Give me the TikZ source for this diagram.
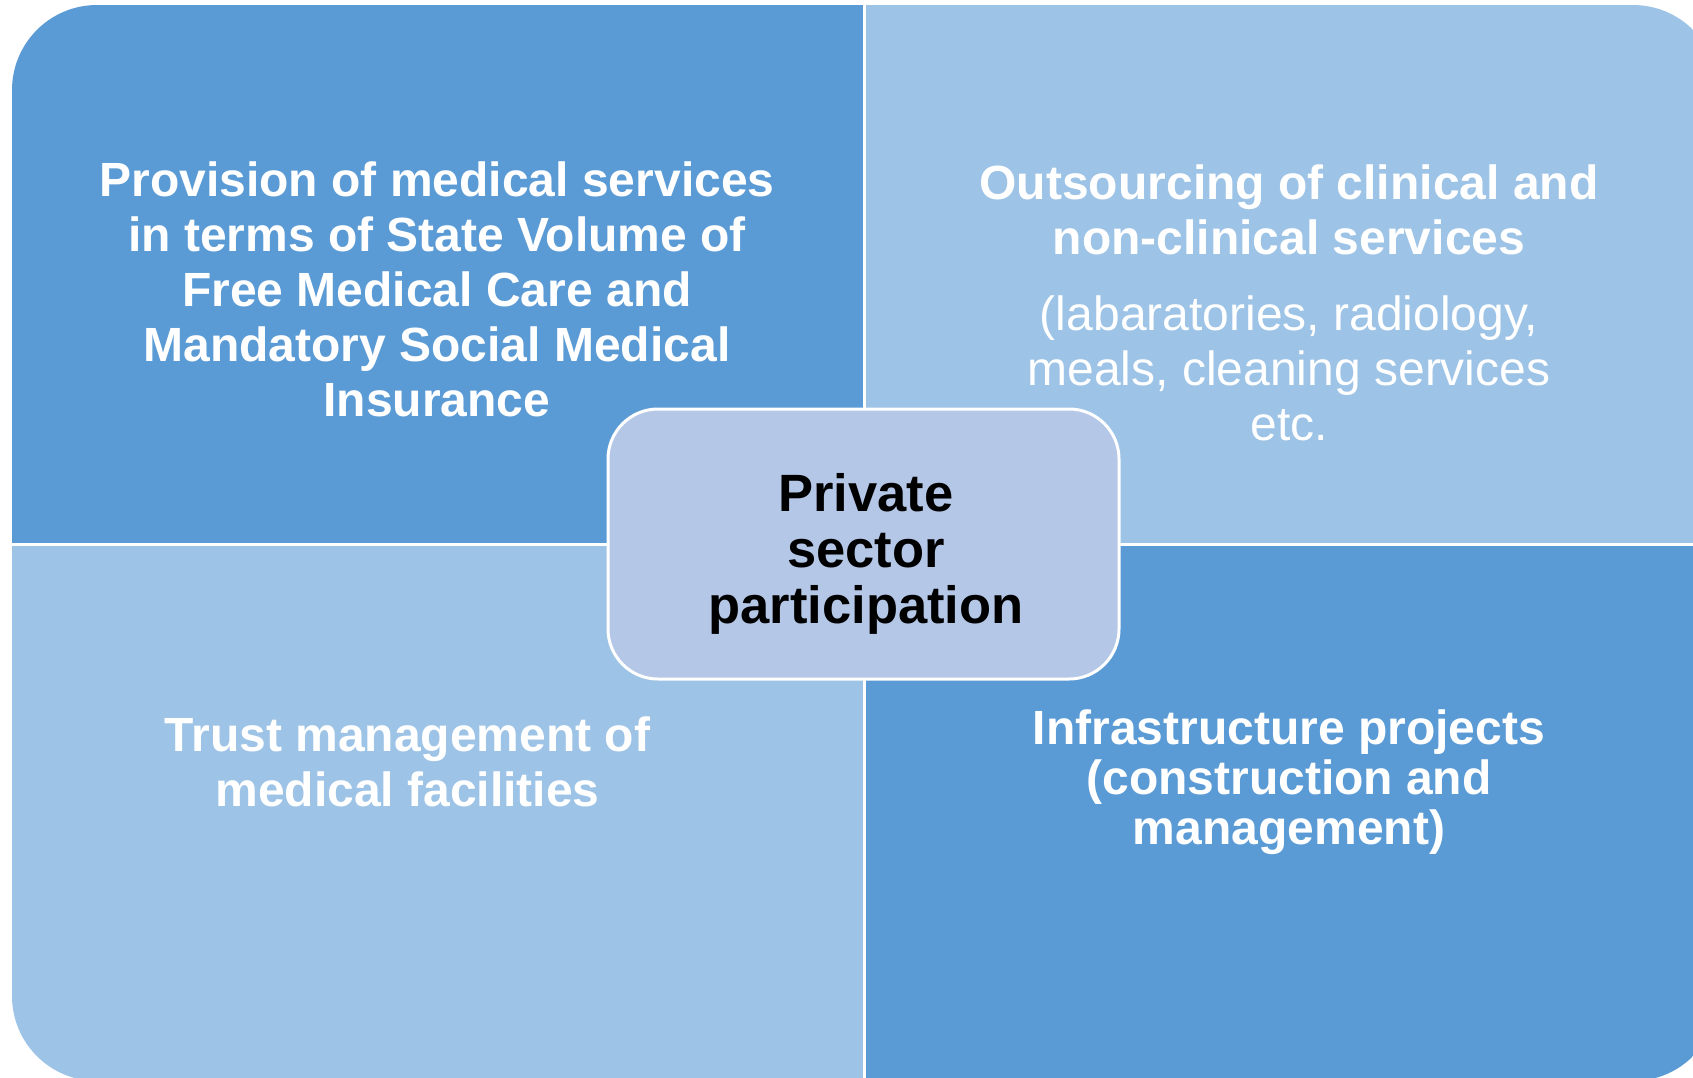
\documentclass[tikz,border=0pt]{standalone}
\usepackage{fontspec}
\setmainfont{Liberation Sans}
\definecolor{dkblue}{HTML}{5B9BD5}
\definecolor{ltblue}{HTML}{9DC3E6}
\definecolor{hubblue}{HTML}{B4C7E7}
\tikzset{
  quad/.style={draw=white, line width=1.5pt},
  quadtext/.style={text=white, align=center, anchor=base, inner sep=0pt,
    font=\bfseries\fontsize{24pt}{27.5pt}\selectfont},
  hubbox/.style={draw=white, fill=hubblue, line width=1.5pt, rounded corners=25pt,
    minimum width=255.5pt, minimum height=135pt, inner sep=0pt},
  hubtext/.style={text=black, align=center, anchor=base, inner sep=0pt,
    font=\bfseries\fontsize{26.25pt}{27.8pt}\selectfont}
}
\begin{document}
\begin{tikzpicture}[x=0.5pt,y=-0.5pt]
\useasboundingbox (0,0) rectangle (1693,1077);
\begin{scope}
  \clip (0,0) rectangle (1693,1077);
  \clip[rounded corners=42.5pt] (12,5) rectangle (1718,1081);
  \path[quad, fill=dkblue] (0,0) rectangle (864,544);
  \path[quad, fill=ltblue] (864,0) rectangle (1730,544);
  \path[quad, fill=ltblue] (0,544) rectangle (864,1090);
  \path[quad, fill=dkblue] (864,544) rectangle (1730,1090);
\end{scope}

% anchor=base sits on the last line's baseline
\node[quadtext] (tl) at (437,416)
  {Provision of medical services\\in terms of State Volume of\\Free Medical Care and\\Mandatory Social Medical\\Insurance};
\node[quadtext] (tr) at (1289,440)
  {Outsourcing of clinical and\\non-clinical services\\[10.5pt]
   \mdseries (labaratories, radiology,\\\mdseries meals, cleaning services\\\mdseries etc.};
\node[quadtext] (bl) at (407.5,806)
  {Trust management of\\medical facilities};
\node[quadtext, font=\bfseries\fontsize{24pt}{25pt}\selectfont] (br) at (1289,844)
  {Infrastructure projects\\(construction and\\management)};

\node[hubbox] (hub) at (863.5,544) {};
\node[hubtext] (hubt) at (866,623) {Private\\sector\\participation};
\end{tikzpicture}
\end{document}
